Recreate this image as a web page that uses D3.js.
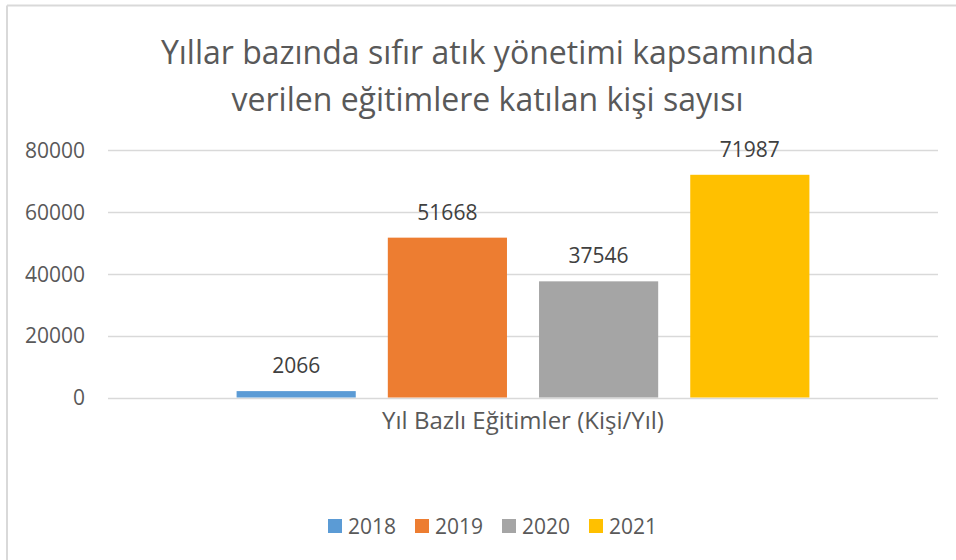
<!DOCTYPE html>
<html>
<head>
<meta charset="utf-8">
<script src="https://cdn.jsdelivr.net/npm/d3@7/dist/d3.min.js"></script>
<style>
  html, body { margin: 0; padding: 0; background: #fff; }
  svg { display: block; font-family: "Open Sans", sans-serif; }
</style>
</head>
<body>
<svg id="chart" width="956" height="560"></svg>
<script>
const titleLines = ["Yıllar bazında sıfır atık yönetimi kapsamında", "verilen eğitimlere katılan kişi sayısı"];
const categories = ["Yıl Bazlı Eğitimler (Kişi/Yıl)"];
const seriesNames = ["2018", "2019", "2020", "2021"];
const seriesValues = [2066, 51668, 37546, 71987];
const seriesColors = ["#5b9bd5", "#ed7d31", "#a5a5a5", "#ffc000"];
const yTicks = [0, 20000, 40000, 60000, 80000];

const svg = d3.select("#chart");
const W = 956, H = 560;
const plot = { left: 108, right: 938, top: 150, bottom: 397.5 };

svg.append("rect").attr("x", 0).attr("y", 0).attr("width", W).attr("height", H).attr("fill", "#fff");
// chart area border (top and left visible)
svg.append("line").attr("x1", 7).attr("x2", W).attr("y1", 5.5).attr("y2", 5.5).attr("stroke", "#d9d9d9").attr("stroke-width", 2);
svg.append("line").attr("x1", 7).attr("x2", 7).attr("y1", 5.5).attr("y2", H).attr("stroke", "#d9d9d9").attr("stroke-width", 2);

// title
const title = svg.append("text").attr("text-anchor", "middle").attr("fill", "#595959")
  .style("font-size", "32px");
titleLines.forEach((t, i) => {
  title.append("tspan").attr("x", 487.5).attr("y", 64 + i * 47).text(t);
});

const y = d3.scaleLinear().domain([0, 80000]).range([plot.bottom, plot.top]);
const x0 = d3.scaleBand().domain(categories).range([plot.left, plot.right]).paddingInner(0).paddingOuter(0.2245);
const x1 = d3.scaleBand().domain(seriesNames).range([0, x0.bandwidth()]).paddingInner(0.212).paddingOuter(0);

// gridlines
svg.append("g").selectAll("line").data(yTicks).join("line")
  .attr("x1", plot.left).attr("x2", plot.right)
  .attr("y1", d => Math.round(y(d)) + 0.5).attr("y2", d => Math.round(y(d)) + 0.5)
  .attr("stroke", "#d9d9d9").attr("stroke-width", 1.5);

// y axis labels
const yAxis = d3.axisLeft(y).tickValues(yTicks).tickSize(0).tickPadding(0).tickFormat(d3.format("d"));
const gy = svg.append("g").attr("transform", `translate(${plot.left - 23},0)`).call(yAxis);
gy.select(".domain").remove();
gy.selectAll("text").attr("fill", "#595959").style("font-size", "21px").style("font-family", "'Open Sans', sans-serif").attr("dy", "0.35em");

// bars
const barData = seriesNames.map((s, i) => ({ cat: categories[0], name: s, value: seriesValues[i], color: seriesColors[i] }));
const g = svg.append("g");
g.selectAll("rect").data(barData).join("rect")
  .attr("x", d => x0(d.cat) + x1(d.name))
  .attr("width", x1.bandwidth())
  .attr("y", d => y(d.value))
  .attr("height", d => y(0) - y(d.value))
  .attr("fill", d => d.color);

// data labels
g.selectAll("text").data(barData).join("text")
  .attr("x", d => x0(d.cat) + x1(d.name) + x1.bandwidth() / 2)
  .attr("y", d => y(d.value) - 18)
  .attr("text-anchor", "middle").attr("fill", "#404040").style("font-size", "21px")
  .text(d => d.value);

// category axis label
const xAxis = d3.axisBottom(x0).tickSize(0).tickPadding(0);
const gx = svg.append("g").attr("transform", `translate(0,${plot.bottom + 31.5})`).call(xAxis);
gx.select(".domain").remove();
gx.selectAll("text").attr("fill", "#595959").style("font-size", "24px").style("font-family", "'Open Sans', sans-serif").attr("dy", 0);

// legend
const legend = svg.append("g").selectAll("g").data(barData).join("g")
  .attr("transform", (d, i) => `translate(${328 + i * 87},519)`);
legend.append("rect").attr("width", 14).attr("height", 14).attr("fill", d => d.color);
legend.append("text").attr("x", 20).attr("y", 14.5).attr("fill", "#595959").style("font-size", "21px").text(d => d.name);
</script>
</body>
</html>
